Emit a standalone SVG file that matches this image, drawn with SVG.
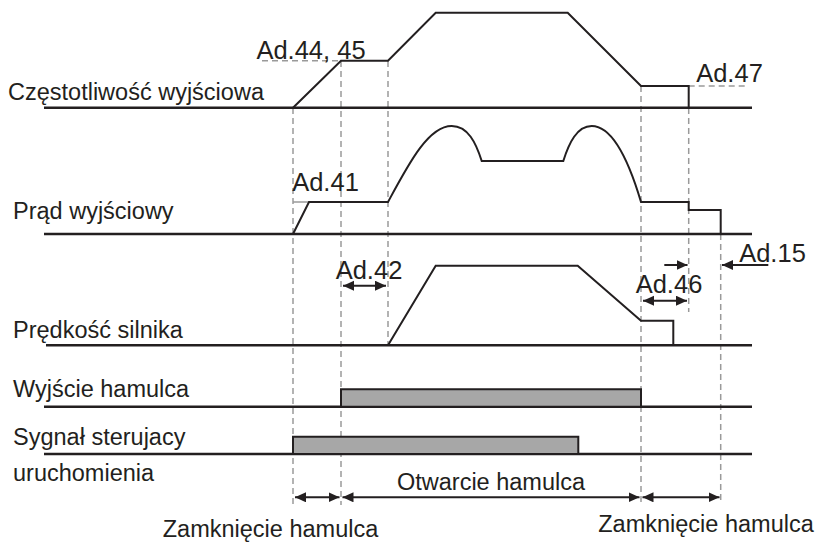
<svg xmlns="http://www.w3.org/2000/svg" width="815" height="543" viewBox="0 0 815 543">
<style>
.bg{fill:#ffffff}
.base{stroke:#231f20;stroke-width:2.5;fill:none}
.wave{stroke:#231f20;stroke-width:2;fill:none;stroke-linejoin:miter}
.dash{stroke:#9a9a9a;stroke-width:1.5;stroke-dasharray:6,4;fill:none}
.guide{stroke:#9a9a9a;stroke-width:1.5;fill:none}
.bar{fill:#a7a7a7;stroke:#231f20;stroke-width:2}
.arr{stroke:#231f20;stroke-width:2;fill:none}
.lbl{font-family:"Liberation Sans",Arial,sans-serif;font-size:23.5px;fill:#231f20}
.ad{font-family:"Liberation Sans",Arial,sans-serif;font-size:25.5px;fill:#231f20}
</style>
<defs>
<marker id="ah" markerUnits="userSpaceOnUse" markerWidth="12" markerHeight="11" refX="11" refY="5" orient="auto-start-reverse" viewBox="0 0 12 11">
<path d="M0,0 L11,5 L0,10 z" fill="#231f20"/>
</marker>
</defs>
<rect class="bg" x="0" y="0" width="815" height="543"/>

<g id="guides">
<line class="dash" x1="293" y1="108" x2="293" y2="505"/>
<line class="dash" x1="341" y1="61" x2="341" y2="505"/>
<line class="dash" x1="388" y1="61" x2="388" y2="345"/>
<line class="dash" x1="641" y1="86" x2="641" y2="503"/>
<line class="dash" x1="688.7" y1="108" x2="688.7" y2="312"/>
<line class="dash" x1="720.7" y1="234" x2="720.7" y2="503"/>
<line class="dash" x1="262" y1="60.7" x2="341" y2="60.7"/>
<line class="dash" x1="688.7" y1="86" x2="747" y2="86"/>
<line class="guide" x1="293" y1="202" x2="309" y2="202"/>
</g>

<g id="freq">
<line class="base" x1="44" y1="107.7" x2="752" y2="107.7"/>
<path class="wave" d="M293,107.7 L341,60.7 L388,60.7 L435.7,12.7 L567.7,12.7 L641,86 L688.7,86 L688.7,107.7"/>
<text class="lbl" x="8" y="99.5">Częstotliwość wyjściowa</text>
<text class="ad" x="311" y="59" text-anchor="middle">Ad.44, 45</text>
<text class="ad" x="729.5" y="81.7" text-anchor="middle">Ad.47</text>
</g>

<g id="current">
<line class="base" x1="44" y1="234" x2="752" y2="234"/>
<path class="wave" d="M293,234 L309,202 L388,202 C408,165 428,126 451.7,126 C468,126 476,143 481.7,161 L563.3,161 C569,143 577,126 591.7,126 C614,126 630,165 641,202 L688.7,202 L688.7,210 L720.7,210 L720.7,234"/>
<text class="lbl" x="13" y="219">Prąd wyjściowy</text>
<text class="ad" x="325.5" y="190.7" text-anchor="middle">Ad.41</text>
</g>

<g id="speed">
<line class="base" x1="46" y1="345.3" x2="752" y2="345.3"/>
<path class="wave" d="M388,345.3 L435.7,265.7 L577.7,265.7 L641,320.7 L673.3,320.7 L673.3,345.3"/>
<text class="lbl" x="13" y="338.3">Prędkość silnika</text>
<text class="ad" x="369" y="279.3" text-anchor="middle">Ad.42</text>
<text class="ad" x="669" y="292.7" text-anchor="middle">Ad.46</text>
<text class="ad" x="772.5" y="261.7" text-anchor="middle">Ad.15</text>
</g>

<g id="brake">
<line class="base" x1="44" y1="406.7" x2="752" y2="406.7"/>
<path class="bar" d="M341,406.7 L341,389.3 L641,389.3 L641,406.7 Z"/>
<text class="lbl" x="13" y="397">Wyjście hamulca</text>
</g>

<g id="run">
<line class="base" x1="44" y1="454" x2="752" y2="454"/>
<path class="bar" d="M293,454 L293,436.7 L578.3,436.7 L578.3,454 Z"/>
<text class="lbl" x="13" y="445">Sygnał sterujacy</text>
<text class="lbl" x="13" y="480.7">uruchomienia</text>
</g>

<g id="connectors">
<line class="arr" x1="343" y1="285.7" x2="386" y2="285.7" marker-start="url(#ah)" marker-end="url(#ah)"/>
<line class="arr" x1="643" y1="300.7" x2="687" y2="300.7" marker-start="url(#ah)" marker-end="url(#ah)"/>
<line class="arr" x1="664.3" y1="265" x2="687.5" y2="265" marker-end="url(#ah)"/>
<line class="arr" x1="768.3" y1="265" x2="722" y2="265" marker-end="url(#ah)"/>
<line class="arr" x1="295" y1="497.3" x2="339.5" y2="497.3" marker-start="url(#ah)" marker-end="url(#ah)"/>
<line class="arr" x1="342.5" y1="497.3" x2="639.5" y2="497.3" marker-start="url(#ah)" marker-end="url(#ah)"/>
<line class="arr" x1="642.5" y1="497.3" x2="719.5" y2="497.3" marker-start="url(#ah)" marker-end="url(#ah)"/>
</g>

<g id="bottom-labels">
<text class="lbl" x="491" y="490" text-anchor="middle">Otwarcie hamulca</text>
<text class="lbl" x="270.5" y="536.7" text-anchor="middle">Zamknięcie hamulca</text>
<text class="lbl" x="706" y="531.7" text-anchor="middle">Zamknięcie hamulca</text>
</g>
</svg>
